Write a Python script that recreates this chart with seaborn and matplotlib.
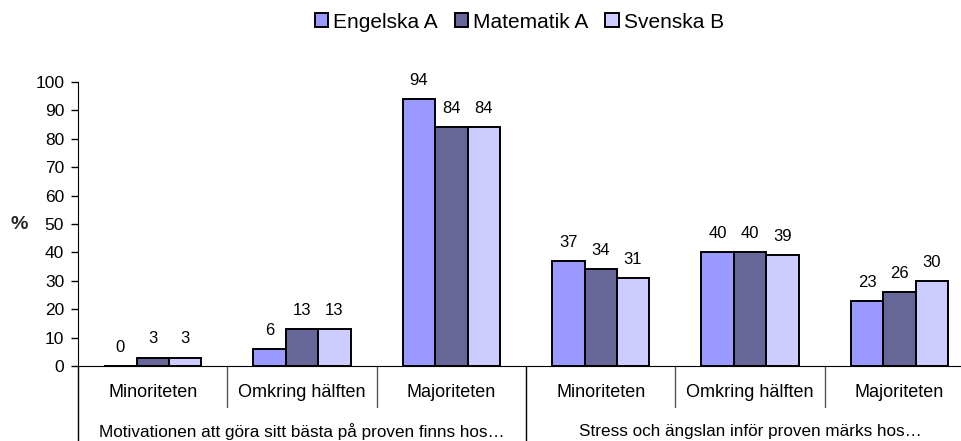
import matplotlib
matplotlib.use("Agg")
import matplotlib.pyplot as plt
import seaborn as sns
import pandas as pd

# data
amnen = ["Engelska A", "Matematik A", "Svenska B"]
svar = ["Minoriteten", "Omkring hälften", "Majoriteten"]
fragor = ["Motivationen att göra sitt bästa på proven finns hos…",
          "Stress och ängslan inför proven märks hos…"]
engelska = [0, 6, 94, 37, 40, 23]
matematik = [3, 13, 84, 34, 40, 26]
svenska = [3, 13, 84, 31, 39, 30]
farger = {"Engelska A": "#9999FF", "Matematik A": "#666699", "Svenska B": "#CCCCFF"}

keys = [f"{q}|{s}" for q in range(len(fragor)) for s in svar]
rows = []
for amne, vals in zip(amnen, [engelska, matematik, svenska]):
    for k, v in zip(keys, vals):
        rows.append({"kategori": k, "amne": amne, "procent": v})
df = pd.DataFrame(rows)

sns.set_style("white")
plt.rcParams["font.family"] = ["Liberation Sans", "DejaVu Sans"]
plt.rcParams["text.color"] = "black"
plt.rcParams["ytick.color"] = "black"
plt.rcParams["ytick.labelcolor"] = "black"

fig = plt.figure(figsize=(9.62, 4.41), dpi=100)
ax = fig.add_axes([0.0811, 0.170, 0.9314, 0.644])

sns.barplot(data=df, x="kategori", y="procent", hue="amne", order=keys,
            hue_order=amnen, palette=farger, saturation=1, width=0.65,
            edgecolor="black", linewidth=1.4, ax=ax)

for cont in ax.containers:
    ax.bar_label(cont, fmt="%.0f", padding=8, fontsize=12, color="black")

ax.set_ylim(0, 100)
ax.set_xlim(-0.5, len(keys) - 0.5)
ax.set_yticks(range(0, 101, 10))
ax.tick_params(axis="y", left=True, length=5, width=1, labelsize=12.5, pad=5)
ax.set_xticks([])
ax.set_xlabel("")
ax.set_ylabel("%", rotation=0, fontsize=14, fontweight="bold", va="center")
ax.yaxis.set_label_coords(-0.066, 0.5)

for side in ["top", "right"]:
    ax.spines[side].set_visible(False)
ax.spines["left"].set_color("black")
ax.spines["bottom"].set_color("black")

# two-level category axis
trans = ax.get_xaxis_transform()
for i in range(len(keys) + 1):
    x = i - 0.5
    low = -0.264 if i % 3 == 0 else -0.144
    ax.plot([x, x], [0, low], transform=trans, color="#555555" if i % 3 else "black",
            lw=1, clip_on=False)
for i, k in enumerate(keys):
    ax.text(i, -0.0915, k.split("|")[1], transform=trans, ha="center", va="center",
            fontsize=13)
for q, f in enumerate(fragor):
    ax.text(q * 3 + 1, -0.229, f, transform=trans, ha="center", va="center",
            fontsize=12.3)

ax.legend(loc="center", bbox_to_anchor=(0.54, 0.95), bbox_transform=fig.transFigure,
          ncol=3, frameon=False, fontsize=15, handlelength=0.65, handleheight=0.65,
          handletextpad=0.25, columnspacing=0.8, title=None)

fig.savefig("out.png", dpi=100)
